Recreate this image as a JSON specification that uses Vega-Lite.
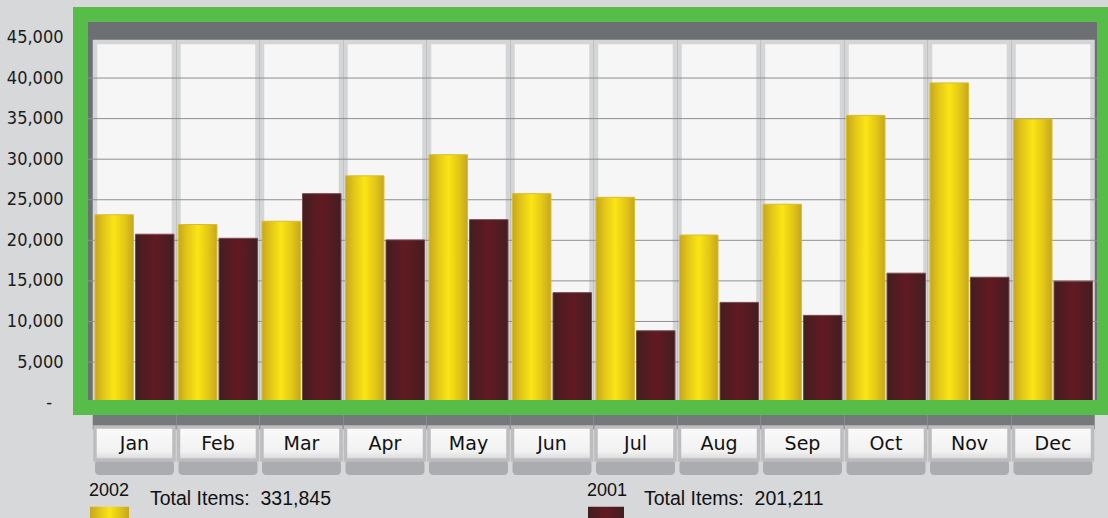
{
  "$schema": "https://vega.github.io/schema/vega-lite/v6.json",
  "autosize": "none",
  "width": 1024,
  "height": 393,
  "padding": {"left": 80.5, "top": 14.5, "right": 3.5, "bottom": 110.5},
  "background": "#d6d8da",
  "view": {"fill": "#6d7073", "stroke": "#55bd48", "strokeWidth": 15},
  "config": {"style": {"cell": {"strokeForeground": true}}},
  "datasets": {
    "sales": [
      {"month": "Jan", "year": "2002", "value": 23150},
      {"month": "Feb", "year": "2002", "value": 21950},
      {"month": "Mar", "year": "2002", "value": 22350},
      {"month": "Apr", "year": "2002", "value": 27950},
      {"month": "May", "year": "2002", "value": 30550},
      {"month": "Jun", "year": "2002", "value": 25750},
      {"month": "Jul", "year": "2002", "value": 25300},
      {"month": "Aug", "year": "2002", "value": 20650},
      {"month": "Sep", "year": "2002", "value": 24450},
      {"month": "Oct", "year": "2002", "value": 35400},
      {"month": "Nov", "year": "2002", "value": 39400},
      {"month": "Dec", "year": "2002", "value": 34945},
      {"month": "Jan", "year": "2001", "value": 20750},
      {"month": "Feb", "year": "2001", "value": 20250},
      {"month": "Mar", "year": "2001", "value": 25750},
      {"month": "Apr", "year": "2001", "value": 20050},
      {"month": "May", "year": "2001", "value": 22550},
      {"month": "Jun", "year": "2001", "value": 13550},
      {"month": "Jul", "year": "2001", "value": 8850},
      {"month": "Aug", "year": "2001", "value": 12350},
      {"month": "Sep", "year": "2001", "value": 10750},
      {"month": "Oct", "year": "2001", "value": 15950},
      {"month": "Nov", "year": "2001", "value": 15450},
      {"month": "Dec", "year": "2001", "value": 14961}
    ],
    "grid": [{"v": 5000}, {"v": 10000}, {"v": 15000}, {"v": 20000}, {"v": 25000}, {"v": 30000}, {"v": 35000}, {"v": 40000}],
    "totals": [{"year": "2002", "total": 331845}, {"year": "2001", "total": 201211}]
  },
  "layer": [
    {
      "data": {"name": "sales"},
      "transform": [{"filter": "datum.year == '2002'"}],
      "mark": {"type": "bar", "fill": "#f6f6f6", "stroke": "#d3d5d7", "strokeWidth": 4.5},
      "encoding": {
        "x": {"field": "month", "type": "nominal", "axis": null, "scale": {"domain": ["Jan","Feb","Mar","Apr","May","Jun","Jul","Aug","Sep","Oct","Nov","Dec"], "paddingInner": 0.054, "paddingOuter": 0.1586, "align": 0.547}},
        "y": {"datum": 0, "type": "quantitative", "scale": {"domain": [-604, 47831], "nice": false, "zero": false},
          "axis": {"title": null, "values": [0, 5000, 10000, 15000, 20000, 25000, 30000, 35000, 40000, 45000],
            "labelExpr": "datum.value == 0 ? '-' : format(datum.value, ',')",
            "grid": false, "domain": false, "ticks": false,
            "labelPadding": {"condition": {"test": "datum.value == 0", "value": 29}, "value": 17.5},
            "labelFont": "DejaVu Sans Condensed, DejaVu Sans", "labelFontSize": 18, "labelColor": "#1c1c1c"}},
        "y2": {"datum": 44450}
      }
    },
    {
      "data": {"name": "grid"},
      "mark": {"type": "rule", "color": "#8d8f91", "strokeWidth": 1},
      "encoding": {
        "y": {"field": "v", "type": "quantitative", "scale": {"domain": [-604, 47831], "nice": false, "zero": false}}
      }
    },
    {
      "data": {"name": "sales"},
      "transform": [{"filter": "datum.year == '2002'"}],
      "mark": {"type": "bar", "stroke": "#d9bf2c", "strokeWidth": 1,
        "fill": {"gradient": "linear", "x1": 0, "y1": 0, "x2": 1, "y2": 0, "stops": [
          {"offset": 0, "color": "#c6a61f"}, {"offset": 0.22, "color": "#e2c618"}, {"offset": 0.5, "color": "#fce514"}, {"offset": 0.78, "color": "#e2c618"}, {"offset": 1, "color": "#c6a61f"}]}},
      "encoding": {
        "x": {"field": "month", "type": "nominal", "axis": null, "scale": {"domain": ["Jan","Feb","Mar","Apr","May","Jun","Jul","Aug","Sep","Oct","Nov","Dec"], "paddingInner": 0.054, "paddingOuter": 0.1586, "align": 0.547}},
        "xOffset": {"field": "year", "type": "nominal", "scale": {"domain": ["2002", "2001"], "paddingInner": 0.05, "paddingOuter": 0}},
        "y": {"field": "value", "type": "quantitative", "scale": {"domain": [-604, 47831], "nice": false, "zero": false}}
      }
    },
    {
      "data": {"name": "sales"},
      "transform": [{"filter": "datum.year == '2001'"}],
      "mark": {"type": "bar", "stroke": "#7a4a4f", "strokeWidth": 1,
        "fill": {"gradient": "linear", "x1": 0, "y1": 0, "x2": 1, "y2": 0, "stops": [
          {"offset": 0, "color": "#421e21"}, {"offset": 0.5, "color": "#621a22"}, {"offset": 1, "color": "#421e21"}]}},
      "encoding": {
        "x": {"field": "month", "type": "nominal", "axis": null, "scale": {"domain": ["Jan","Feb","Mar","Apr","May","Jun","Jul","Aug","Sep","Oct","Nov","Dec"], "paddingInner": 0.054, "paddingOuter": 0.1586, "align": 0.547}},
        "xOffset": {"field": "year", "type": "nominal", "scale": {"domain": ["2002", "2001"], "paddingInner": 0.05, "paddingOuter": 0}},
        "y": {"field": "value", "type": "quantitative", "scale": {"domain": [-604, 47831], "nice": false, "zero": false}}
      }
    },
    {
      "data": {"name": "sales"},
      "transform": [{"filter": "datum.year == '2002'"}],
      "mark": {"type": "bar", "fill": "#76797c", "stroke": "#76797c", "strokeWidth": 4.5},
      "encoding": {
        "x": {"field": "month", "type": "nominal", "axis": null, "scale": {"domain": ["Jan","Feb","Mar","Apr","May","Jun","Jul","Aug","Sep","Oct","Nov","Dec"], "paddingInner": 0.054, "paddingOuter": 0.1586, "align": 0.547}},
        "y": {"datum": -1528, "type": "quantitative", "scale": {"domain": [-604, 47831], "nice": false, "zero": false}},
        "y2": {"datum": -3007}
      }
    },
    {
      "data": {"name": "sales"},
      "transform": [{"filter": "datum.year == '2002'"}],
      "mark": {"type": "bar", "fill": "#8e9092", "opacity": 0.6, "cornerRadius": 4},
      "encoding": {
        "x": {"field": "month", "type": "nominal", "axis": null, "scale": {"domain": ["Jan","Feb","Mar","Apr","May","Jun","Jul","Aug","Sep","Oct","Nov","Dec"], "paddingInner": 0.054, "paddingOuter": 0.1586, "align": 0.547}},
        "y": {"datum": -7074, "type": "quantitative", "scale": {"domain": [-604, 47831], "nice": false, "zero": false}},
        "y2": {"datum": -8923}
      }
    },
    {
      "data": {"name": "sales"},
      "transform": [{"filter": "datum.year == '2002'"}],
      "mark": {"type": "bar", "stroke": "#bdbcbf", "strokeWidth": 3.5,
        "fill": {"gradient": "linear", "x1": 0, "y1": 0, "x2": 0, "y2": 1, "stops": [
          {"offset": 0, "color": "#fbfbfb"}, {"offset": 0.75, "color": "#f1f1f1"}, {"offset": 1, "color": "#d6d6d8"}]}},
      "encoding": {
        "x": {"field": "month", "type": "nominal", "axis": null, "scale": {"domain": ["Jan","Feb","Mar","Apr","May","Jun","Jul","Aug","Sep","Oct","Nov","Dec"], "paddingInner": 0.054, "paddingOuter": 0.1586, "align": 0.547}},
        "y": {"datum": -3007, "type": "quantitative", "scale": {"domain": [-604, 47831], "nice": false, "zero": false}},
        "y2": {"datum": -7074}
      }
    },
    {
      "data": {"name": "sales"},
      "transform": [{"filter": "datum.year == '2002'"}],
      "mark": {"type": "text", "font": "DejaVu Sans", "fontSize": 19, "color": "#111111", "baseline": "middle", "align": "center"},
      "encoding": {
        "x": {"field": "month", "type": "nominal", "axis": null, "scale": {"domain": ["Jan","Feb","Mar","Apr","May","Jun","Jul","Aug","Sep","Oct","Nov","Dec"], "paddingInner": 0.054, "paddingOuter": 0.1586, "align": 0.547}},
        "y": {"datum": -5102, "type": "quantitative", "scale": {"domain": [-604, 47831], "nice": false, "zero": false}},
        "text": {"field": "month"}
      }
    },
    {
      "data": {"name": "totals"},
      "transform": [{"filter": "datum.year == '2002'"}],
      "mark": {"type": "text", "font": "Liberation Sans", "fontSize": 18, "color": "#111111", "baseline": "middle", "align": "left", "dx": -6},
      "encoding": {
        "x": {"datum": "Jan", "type": "nominal", "bandPosition": 0, "axis": null, "scale": {"domain": ["Jan","Feb","Mar","Apr","May","Jun","Jul","Aug","Sep","Oct","Nov","Dec"], "paddingInner": 0.054, "paddingOuter": 0.1586, "align": 0.547}},
        "y": {"datum": -10858, "type": "quantitative", "scale": {"domain": [-604, 47831], "nice": false, "zero": false}},
        "text": {"field": "year"}
      }
    },
    {
      "data": {"name": "totals"},
      "transform": [{"filter": "datum.year == '2002'"}, {"calculate": "'Total Items:\u00a0\u00a0' + format(datum.total, ',')", "as": "label"}],
      "mark": {"type": "text", "font": "Liberation Sans", "fontSize": 19.5, "color": "#111111", "baseline": "middle", "align": "left", "dx": 55},
      "encoding": {
        "x": {"datum": "Jan", "type": "nominal", "bandPosition": 0, "axis": null, "scale": {"domain": ["Jan","Feb","Mar","Apr","May","Jun","Jul","Aug","Sep","Oct","Nov","Dec"], "paddingInner": 0.054, "paddingOuter": 0.1586, "align": 0.547}},
        "y": {"datum": -11881, "type": "quantitative", "scale": {"domain": [-604, 47831], "nice": false, "zero": false}},
        "text": {"field": "label"}
      }
    },
    {
      "data": {"name": "totals"},
      "transform": [{"filter": "datum.year == '2002'"}],
      "mark": {"type": "bar", "width": 39, "xOffset": -25,
        "fill": {"gradient": "linear", "x1": 0, "y1": 0, "x2": 1, "y2": 0, "stops": [
          {"offset": 0, "color": "#c6a61f"}, {"offset": 0.5, "color": "#fce514"}, {"offset": 1, "color": "#c6a61f"}]}},
      "encoding": {
        "x": {"datum": "Jan", "type": "nominal", "axis": null, "scale": {"domain": ["Jan","Feb","Mar","Apr","May","Jun","Jul","Aug","Sep","Oct","Nov","Dec"], "paddingInner": 0.054, "paddingOuter": 0.1586, "align": 0.547}},
        "y": {"datum": -12830, "type": "quantitative", "scale": {"domain": [-604, 47831], "nice": false, "zero": false}},
        "y2": {"datum": -14470}
      }
    },
    {
      "data": {"name": "totals"},
      "transform": [{"filter": "datum.year == '2001'"}],
      "mark": {"type": "text", "font": "Liberation Sans", "fontSize": 18, "color": "#111111", "baseline": "middle", "align": "left", "dx": -9},
      "encoding": {
        "x": {"datum": "Jul", "type": "nominal", "bandPosition": 0, "axis": null, "scale": {"domain": ["Jan","Feb","Mar","Apr","May","Jun","Jul","Aug","Sep","Oct","Nov","Dec"], "paddingInner": 0.054, "paddingOuter": 0.1586, "align": 0.547}},
        "y": {"datum": -10858, "type": "quantitative", "scale": {"domain": [-604, 47831], "nice": false, "zero": false}},
        "text": {"field": "year"}
      }
    },
    {
      "data": {"name": "totals"},
      "transform": [{"filter": "datum.year == '2001'"}, {"calculate": "'Total Items:\u00a0\u00a0' + format(datum.total, ',')", "as": "label"}],
      "mark": {"type": "text", "font": "Liberation Sans", "fontSize": 19.5, "color": "#111111", "baseline": "middle", "align": "left", "dx": 48},
      "encoding": {
        "x": {"datum": "Jul", "type": "nominal", "bandPosition": 0, "axis": null, "scale": {"domain": ["Jan","Feb","Mar","Apr","May","Jun","Jul","Aug","Sep","Oct","Nov","Dec"], "paddingInner": 0.054, "paddingOuter": 0.1586, "align": 0.547}},
        "y": {"datum": -11881, "type": "quantitative", "scale": {"domain": [-604, 47831], "nice": false, "zero": false}},
        "text": {"field": "label"}
      }
    },
    {
      "data": {"name": "totals"},
      "transform": [{"filter": "datum.year == '2001'"}],
      "mark": {"type": "bar", "width": 36, "xOffset": -29.5,
        "fill": {"gradient": "linear", "x1": 0, "y1": 0, "x2": 1, "y2": 0, "stops": [
          {"offset": 0, "color": "#421e21"}, {"offset": 0.5, "color": "#621a22"}, {"offset": 1, "color": "#421e21"}]}},
      "encoding": {
        "x": {"datum": "Jul", "type": "nominal", "axis": null, "scale": {"domain": ["Jan","Feb","Mar","Apr","May","Jun","Jul","Aug","Sep","Oct","Nov","Dec"], "paddingInner": 0.054, "paddingOuter": 0.1586, "align": 0.547}},
        "y": {"datum": -12830, "type": "quantitative", "scale": {"domain": [-604, 47831], "nice": false, "zero": false}},
        "y2": {"datum": -14470}
      }
    }
  ]
}
